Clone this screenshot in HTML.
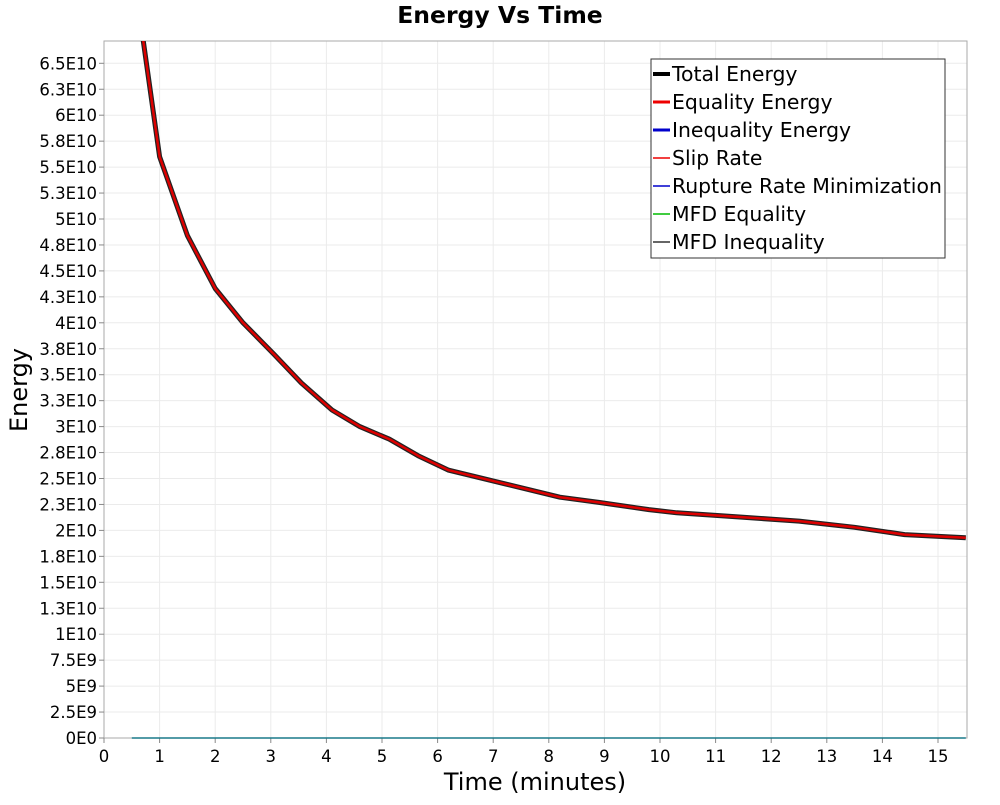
<!DOCTYPE html>
<html><head><meta charset="utf-8"><style>
body{margin:0;background:#fff;font-family:"Liberation Sans","DejaVu Sans",sans-serif}
</style></head><body>
<svg id="c" width="1000" height="800" xmlns="http://www.w3.org/2000/svg" font-family="DejaVu Sans, Liberation Sans, sans-serif">
<defs><clipPath id="clip"><rect x="104" y="41" width="863" height="698"/></clipPath></defs>
<rect x="0" y="0" width="1000" height="800" fill="#fff"/>
<text x="500" y="23" text-anchor="middle" font-size="23.5" font-weight="bold">Energy Vs Time</text>
<g id="grid"></g>
<rect x="104" y="41" width="863" height="697" fill="none" stroke="#aaa"/>
<g id="axes"></g>
<g id="series" clip-path="url(#clip)"></g>
<text x="535" y="790" text-anchor="middle" font-size="24">Time (minutes)</text>
<text transform="translate(27,390) rotate(-90)" text-anchor="middle" font-size="24">Energy</text>
<g>
<rect x="651" y="59" width="294" height="199" fill="#fff" stroke="#333"/>
<g font-size="20.4">
<line x1="653" y1="74" x2="670" y2="74" stroke="#000" stroke-width="4"/><text x="672" y="81">Total Energy</text>
<line x1="653" y1="102" x2="670" y2="102" stroke="#e00" stroke-width="3"/><text x="672" y="109">Equality Energy</text>
<line x1="653" y1="130" x2="670" y2="130" stroke="#00c" stroke-width="3"/><text x="672" y="137">Inequality Energy</text>
<line x1="653" y1="158" x2="670" y2="158" stroke="#e00" stroke-width="1.5"/><text x="672" y="165">Slip Rate</text>
<line x1="653" y1="186" x2="670" y2="186" stroke="#00c" stroke-width="1.5"/><text x="672" y="193">Rupture Rate Minimization</text>
<line x1="653" y1="214" x2="670" y2="214" stroke="#0b0" stroke-width="1.5"/><text x="672" y="221">MFD Equality</text>
<line x1="653" y1="242" x2="670" y2="242" stroke="#333" stroke-width="1.5"/><text x="672" y="249">MFD Inequality</text>
</g></g>
</svg>
<script>
const times=[0.5,1,1.5,2,2.5,3.05,3.55,4.1,4.6,5.13,5.65,6.2,7.2,8.2,8.9,9.8,10.3,11.4,12.5,13.5,14.4,15.5];
const energy=[75,56,48.4,43.3,40.0,37.0,34.2,31.6,30.0,28.8,27.2,25.8,24.5,23.2,22.7,22.0,21.7,21.3,20.9,20.3,19.6,19.3];
const smallTerms=[0,0,0,0,0,0,0,0,0,0,0,0,0,0,0,0,0,0,0,0,0,0];
const xTicks=[0,1,2,3,4,5,6,7,8,9,10,11,12,13,14,15];
const yTickLabels=["0E0","2.5E9","5E9","7.5E9","1E10","1.3E10","1.5E10","1.8E10","2E10","2.3E10","2.5E10","2.8E10","3E10","3.3E10","3.5E10","3.8E10","4E10","4.3E10","4.5E10","4.8E10","5E10","5.3E10","5.5E10","5.8E10","6E10","6.3E10","6.5E10"];
const NS="http://www.w3.org/2000/svg";
const X=t=>104+t*55.6;
const Y=v=>738-v*10.38;
const grid=document.getElementById('grid'),axes=document.getElementById('axes'),ser=document.getElementById('series');
function mk(tag,attrs,parent){const e=document.createElementNS(NS,tag);for(const k in attrs)e.setAttribute(k,attrs[k]);parent.appendChild(e);return e;}
xTicks.forEach(t=>{
 const l=mk('line',{x1:X(t),x2:X(t),y1:41,y2:738,stroke:'#ebebeb'},grid);
 
 
 mk('line',{x1:X(t),x2:X(t),y1:738,y2:743,stroke:'#888'},axes);
 const tx=mk('text',{x:X(t),y:762,'text-anchor':'middle','font-size':16.5},axes);
 tx.textContent=t;
 
 
});
yTickLabels.forEach((s,i)=>{
 const v=i*2.5;
 const l=mk('line',{x1:104,x2:967,y1:Y(v),y2:Y(v),stroke:'#ebebeb'},grid);
 
 
 mk('line',{x1:99,x2:104,y1:Y(v),y2:Y(v),stroke:'#888'},axes);
 const tx=mk('text',{x:97,y:Y(v)+6,'text-anchor':'end','font-size':16.5},axes);
 tx.textContent=s;
 
 
});
function path(vals){return vals.map((v,i)=>(i?'L':'M')+X(times[i]).toFixed(1)+','+Y(v).toFixed(1)).join(' ');}
const p0=mk('path',{d:path(smallTerms),fill:'none',stroke:'#1a7a8a','stroke-width':1.5},ser);


const p1=mk('path',{d:path(energy),fill:'none',stroke:'#222','stroke-width':5,'stroke-linejoin':'round'},ser);


const p2=mk('path',{d:path(energy),fill:'none',stroke:'#d00','stroke-width':2.5,'stroke-linejoin':'round'},ser);


</script>
</body></html>
